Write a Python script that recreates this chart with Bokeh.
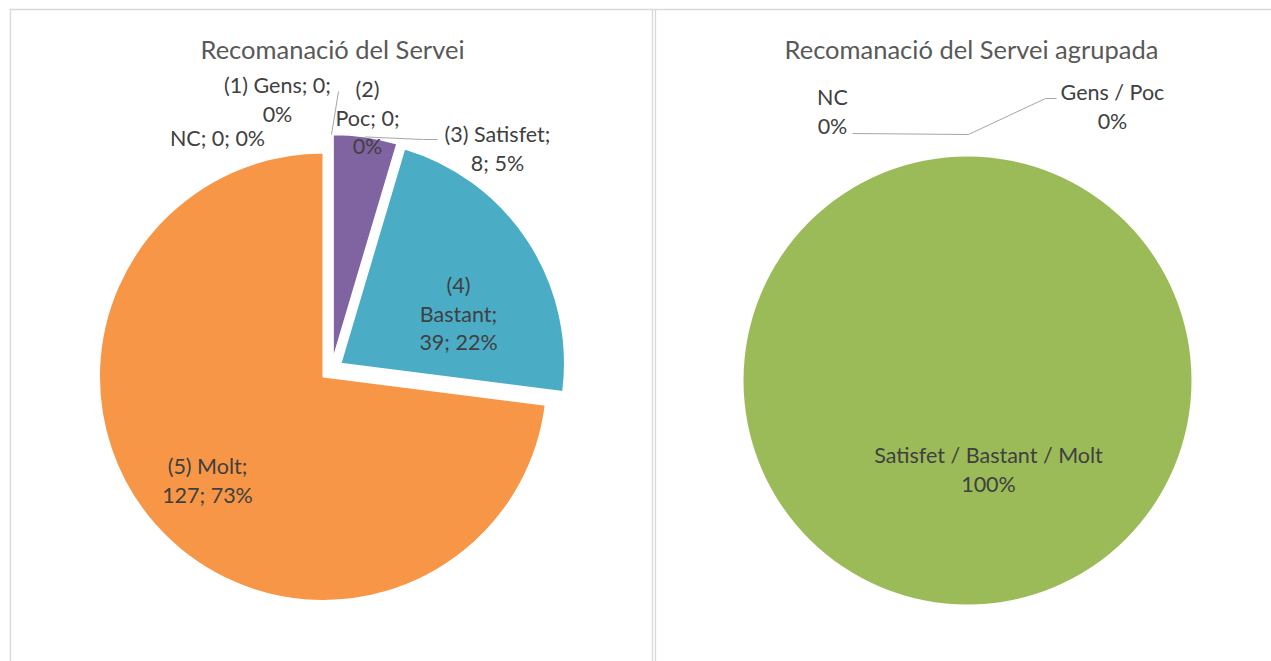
import math
import textwrap
from bokeh.plotting import figure
from bokeh.models import Range1d
from bokeh.embed import file_html
from bokeh.resources import INLINE
from bokeh.core.properties import value

# ---------------- data ----------------
categories = ["NC", "(1) Gens", "(2) Poc", "(3) Satisfet", "(4) Bastant", "(5) Molt"]
counts = [0, 0, 0, 8, 39, 127]
slice_colors = ["#4F81BD", "#C0504D", "#9BBB59", "#8064A2", "#4BACC6", "#F79646"]

group_categories = ["NC", "Gens / Poc", "Satisfet / Bastant / Molt"]
group_members = [[0], [1, 2], [3, 4, 5]]
group_colors = ["#4F81BD", "#C0504D", "#9BBB59"]

title_left = "Recomanació del Servei"
title_right = "Recomanació del Servei agrupada"

# ---------------- layout (page pixels) ----------------
W, H = 1271, 661
FONT = "Lato"
TXT = "#404040"
TITLE_TXT = "#595959"
LEADER = "#a6a6a6"
LABEL_SIZE = "21.5px"
TITLE_SIZE = "25.5px"
LINE_H = 28.5

left_center = (331, 369)
left_radius = 224
left_explode = 11
right_center = (967, 380)
right_radius = 224

# label centres and wrap widths (layout only)
left_label_pos = [(217, 137), (277, 99), (367, 117), (497, 148), (458, 313), (207, 480)]
left_wrap = [20, 12, 7, 13, 8, 9]
right_label_pos = [(832, 111), (1112, 106), (988, 469)]


def X(px):
    return px


def Y(py):
    return H - py


p = figure(width=W, height=H, x_range=Range1d(0, W), y_range=Range1d(0, H),
           output_backend="svg", toolbar_location=None, min_border=0,
           x_axis_location=None, y_axis_location=None)
p.grid.visible = False
p.outline_line_color = None
p.background_fill_color = "white"
p.border_fill_color = "white"

# chart area borders
p.segment(x0=[X(9), X(10), X(652), X(655)], y0=[Y(9), Y(9), Y(9), Y(9)],
          x1=[X(1271), X(10), X(652), X(655)], y1=[Y(9), Y(661), Y(661), Y(661)],
          line_color="#d9d9d9", line_width=1.3)


def text_lines(labels, positions, size=LABEL_SIZE):
    xs, ys, ts = [], [], []
    for lines, (cx, cy) in zip(labels, positions):
        n = len(lines)
        for i, t in enumerate(lines):
            xs.append(X(cx))
            ys.append(Y(cy + (i - (n - 1) / 2) * LINE_H))
            ts.append(t)
    p.text(x=xs, y=ys, text=ts, text_font=value(FONT), text_font_size=size,
           text_color=TXT, text_align="center", text_baseline="middle")


# ---------------- left pie ----------------
total = sum(counts)
cx, cy = X(left_center[0]), Y(left_center[1])
cum = 0
wx, wy, sa, ea, col = [], [], [], [], []
arc_mid = []
for c, colr in zip(counts, slice_colors):
    f0 = cum / total
    cum += c
    f1 = cum / total
    mid = math.pi / 2 - 2 * math.pi * (f0 + f1) / 2
    ox = cx + left_explode * math.cos(mid)
    oy = cy + left_explode * math.sin(mid)
    arc_mid.append((ox + left_radius * math.cos(mid), oy + left_radius * math.sin(mid)))
    if c > 0:
        wx.append(ox)
        wy.append(oy)
        sa.append(math.pi / 2 - 2 * math.pi * f0)
        ea.append(math.pi / 2 - 2 * math.pi * f1)
        col.append(colr)
p.wedge(x=wx, y=wy, radius=left_radius, start_angle=sa, end_angle=ea,
        direction="clock", fill_color=col, line_color="white", line_width=1.5)

# leader lines (left): Gens and Satisfet
g = arc_mid[1]
s = arc_mid[3]
p.multi_line(xs=[[g[0], X(338)], [s[0], X(423), X(437)]],
             ys=[[g[1], Y(91)], [s[1], Y(139), Y(139)]],
             line_color=LEADER, line_width=1)

left_labels = []
for cat, c, w in zip(categories, counts, left_wrap):
    pct = round(c / total * 100)
    left_labels.append(textwrap.wrap(f"{cat}; {c}; {pct}%", w))
text_lines(left_labels, left_label_pos)

# ---------------- right pie ----------------
group_counts = [sum(counts[i] for i in m) for m in group_members]
gtotal = sum(group_counts)
rcx, rcy = X(right_center[0]), Y(right_center[1])
cum = 0
wx, wy, sa, ea, col = [], [], [], [], []
for c, colr in zip(group_counts, group_colors):
    f0 = cum / gtotal
    cum += c
    f1 = cum / gtotal
    if c > 0:
        wx.append(rcx)
        wy.append(rcy)
        if f1 - f0 >= 1:
            sa.append(0.0)
            ea.append(2 * math.pi)
        else:
            sa.append(math.pi / 2 - 2 * math.pi * f0)
            ea.append(math.pi / 2 - 2 * math.pi * f1)
        col.append(colr)
p.wedge(x=wx, y=wy, radius=right_radius, start_angle=sa, end_angle=ea,
        direction="anticlock", fill_color=col, line_color=None)

p.multi_line(xs=[[X(968), X(852)], [X(968), X(1045), X(1056)]],
             ys=[[Y(134), Y(133)], [Y(134), Y(98), Y(98)]],
             line_color=LEADER, line_width=1)

right_labels = []
for cat, c in zip(group_categories, group_counts):
    pct = round(c / gtotal * 100)
    right_labels.append([cat, f"{pct}%"])
text_lines(right_labels, right_label_pos)

# titles
p.text(x=[X(332), X(971)], y=[Y(48), Y(48)], text=[title_left, title_right],
       text_font=value(FONT), text_font_size=TITLE_SIZE, text_color=TITLE_TXT,
       text_align="center", text_baseline="middle")

open("out.html", "w").write(file_html(p, INLINE))
